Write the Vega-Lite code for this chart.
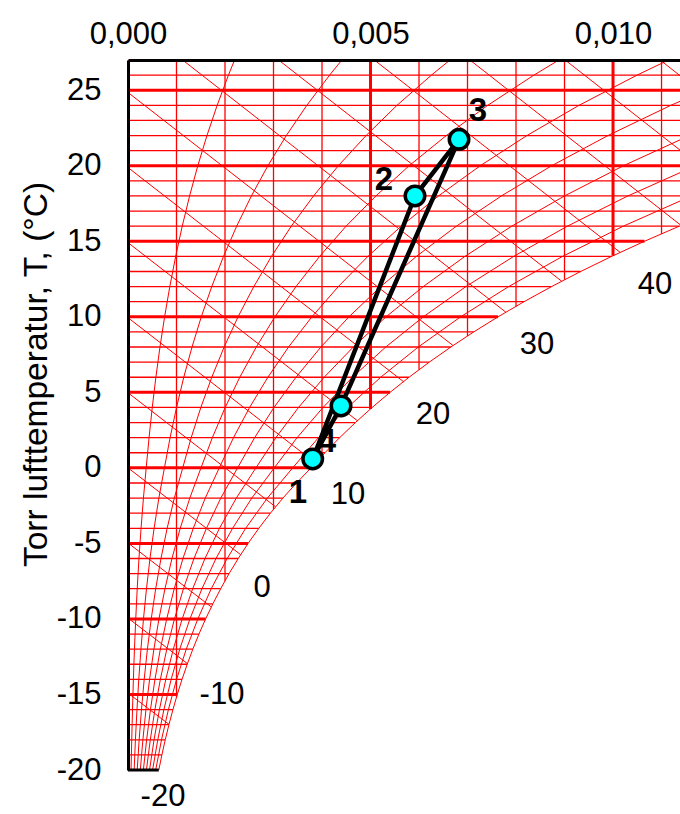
{
  "$schema": "https://vega.github.io/schema/vega-lite/v6.json",
  "width": 552,
  "height": 710,
  "autosize": {"type": "none"},
  "padding": {"left": 128, "top": 60, "right": 0, "bottom": 44},
  "background": "white",
  "config": {"view": {"stroke": null}, "font": "Liberation Sans"},
  "datasets": {
    "sat": [
      {"T": -20, "x": 0.000635}, {"T": -19, "x": 0.000699}, {"T": -18, "x": 0.000768}, {"T": -17, "x": 0.000844},
      {"T": -16, "x": 0.000927}, {"T": -15, "x": 0.001016}, {"T": -14, "x": 0.001114}, {"T": -13, "x": 0.001221},
      {"T": -12, "x": 0.001337}, {"T": -11, "x": 0.001463}, {"T": -10, "x": 0.0016}, {"T": -9, "x": 0.00175},
      {"T": -8, "x": 0.001911}, {"T": -7, "x": 0.002084}, {"T": -6, "x": 0.002273}, {"T": -5, "x": 0.002476},
      {"T": -4, "x": 0.002697}, {"T": -3, "x": 0.002936}, {"T": -2, "x": 0.003194}, {"T": -1, "x": 0.003474},
      {"T": 0, "x": 0.003775}, {"T": 1, "x": 0.00406}, {"T": 2, "x": 0.004364}, {"T": 3, "x": 0.004689},
      {"T": 4, "x": 0.005034}, {"T": 5, "x": 0.005403}, {"T": 6, "x": 0.005795}, {"T": 7, "x": 0.006212},
      {"T": 8, "x": 0.006656}, {"T": 9, "x": 0.007128}, {"T": 10, "x": 0.00763}, {"T": 11, "x": 0.008164},
      {"T": 12, "x": 0.008732}, {"T": 13, "x": 0.009333}, {"T": 14, "x": 0.009972}, {"T": 15, "x": 0.010649},
      {"T": 16, "x": 0.011367}, {"T": 17, "x": 0.012129}, {"T": 18, "x": 0.012936}, {"T": 19, "x": 0.013791},
      {"T": 20, "x": 0.014696}, {"T": 21, "x": 0.015655}, {"T": 22, "x": 0.01667}, {"T": 23, "x": 0.017744},
      {"T": 24, "x": 0.01888}, {"T": 25, "x": 0.020082}, {"T": 26, "x": 0.021352}, {"T": 27, "x": 0.022696}
    ],
    "vert": [
      {"x": 0.001, "T": -15.18}, {"x": 0.002, "T": -7.49}, {"x": 0.003, "T": -2.75}, {"x": 0.004, "T": 0.79},
      {"x": 0.005, "T": 3.9}, {"x": 0.006, "T": 6.49}, {"x": 0.007, "T": 8.73}, {"x": 0.008, "T": 10.69},
      {"x": 0.009, "T": 12.45}, {"x": 0.01, "T": 14.04}, {"x": 0.011, "T": 15.49}
    ],
    "enth": [
      {"h": -20, "x": 0, "T": -19.88}, {"h": -20, "x": 0.000049, "T": -20},
      {"h": -15, "x": 0, "T": -14.91}, {"h": -15, "x": 0.000846, "T": -16.98},
      {"h": -10, "x": 0, "T": -9.94}, {"h": -10, "x": 0.001226, "T": -12.96},
      {"h": -5, "x": 0, "T": -4.97}, {"h": -5, "x": 0.001719, "T": -9.21},
      {"h": 0, "x": 0, "T": 0}, {"h": 0, "x": 0.002324, "T": -5.75},
      {"h": 5, "x": 0, "T": 4.97}, {"h": 5, "x": 0.003043, "T": -2.58},
      {"h": 10, "x": 0, "T": 9.94}, {"h": 10, "x": 0.003867, "T": 0.32},
      {"h": 15, "x": 0, "T": 14.91}, {"h": 15, "x": 0.00473, "T": 3.12},
      {"h": 20, "x": 0, "T": 19.88}, {"h": 20, "x": 0.005679, "T": 5.71},
      {"h": 25, "x": 0, "T": 24.85}, {"h": 25, "x": 0.006701, "T": 8.1},
      {"h": 30, "x": 0, "T": 29.82}, {"h": 30, "x": 0.007792, "T": 10.3},
      {"h": 35, "x": 0, "T": 34.79}, {"h": 35, "x": 0.008944, "T": 12.35},
      {"h": 40, "x": 0, "T": 39.76}, {"h": 40, "x": 0.01015, "T": 14.26},
      {"h": 45, "x": 0, "T": 44.73}, {"h": 45, "x": 0.011403, "T": 16.05},
      {"h": 50, "x": 0, "T": 49.7}, {"h": 50, "x": 0.012702, "T": 17.71},
      {"h": 55, "x": 0, "T": 54.67}, {"h": 55, "x": 0.014035, "T": 19.27}
    ],
    "rh": [
      {"p": 10, "T": -20, "x": 0.000063}, {"p": 10, "T": -18, "x": 0.000077}, {"p": 10, "T": -16, "x": 0.000093}, {"p": 10, "T": -14, "x": 0.000111}, {"p": 10, "T": -12, "x": 0.000133}, {"p": 10, "T": -10, "x": 0.00016}, {"p": 10, "T": -8, "x": 0.00019}, {"p": 10, "T": -6, "x": 0.000226}, {"p": 10, "T": -4, "x": 0.000269}, {"p": 10, "T": -2, "x": 0.000318}, {"p": 10, "T": 0, "x": 0.000375}, {"p": 10, "T": 2, "x": 0.000434}, {"p": 10, "T": 4, "x": 0.0005}, {"p": 10, "T": 6, "x": 0.000575}, {"p": 10, "T": 8, "x": 0.000659}, {"p": 10, "T": 10, "x": 0.000755}, {"p": 10, "T": 12, "x": 0.000862}, {"p": 10, "T": 14, "x": 0.000983}, {"p": 10, "T": 16, "x": 0.001118}, {"p": 10, "T": 18, "x": 0.00127}, {"p": 10, "T": 20, "x": 0.001439}, {"p": 10, "T": 22, "x": 0.001628}, {"p": 10, "T": 24, "x": 0.001838}, {"p": 10, "T": 26, "x": 0.002071}, {"p": 10, "T": 27, "x": 0.002198},
      {"p": 20, "T": -20, "x": 0.000127}, {"p": 20, "T": -18, "x": 0.000153}, {"p": 20, "T": -16, "x": 0.000185}, {"p": 20, "T": -14, "x": 0.000222}, {"p": 20, "T": -12, "x": 0.000267}, {"p": 20, "T": -10, "x": 0.000319}, {"p": 20, "T": -8, "x": 0.000381}, {"p": 20, "T": -6, "x": 0.000453}, {"p": 20, "T": -4, "x": 0.000538}, {"p": 20, "T": -2, "x": 0.000636}, {"p": 20, "T": 0, "x": 0.000751}, {"p": 20, "T": 2, "x": 0.000868}, {"p": 20, "T": 4, "x": 0.001001}, {"p": 20, "T": 6, "x": 0.00115}, {"p": 20, "T": 8, "x": 0.00132}, {"p": 20, "T": 10, "x": 0.001511}, {"p": 20, "T": 12, "x": 0.001727}, {"p": 20, "T": 14, "x": 0.001969}, {"p": 20, "T": 16, "x": 0.002241}, {"p": 20, "T": 18, "x": 0.002544}, {"p": 20, "T": 20, "x": 0.002884}, {"p": 20, "T": 22, "x": 0.003264}, {"p": 20, "T": 24, "x": 0.003687}, {"p": 20, "T": 26, "x": 0.004157}, {"p": 20, "T": 27, "x": 0.00441},
      {"p": 30, "T": -20, "x": 0.00019}, {"p": 30, "T": -18, "x": 0.00023}, {"p": 30, "T": -16, "x": 0.000278}, {"p": 30, "T": -14, "x": 0.000334}, {"p": 30, "T": -12, "x": 0.0004}, {"p": 30, "T": -10, "x": 0.000479}, {"p": 30, "T": -8, "x": 0.000571}, {"p": 30, "T": -6, "x": 0.00068}, {"p": 30, "T": -4, "x": 0.000807}, {"p": 30, "T": -2, "x": 0.000955}, {"p": 30, "T": 0, "x": 0.001128}, {"p": 30, "T": 2, "x": 0.001303}, {"p": 30, "T": 4, "x": 0.001502}, {"p": 30, "T": 6, "x": 0.001728}, {"p": 30, "T": 8, "x": 0.001982}, {"p": 30, "T": 10, "x": 0.002269}, {"p": 30, "T": 12, "x": 0.002594}, {"p": 30, "T": 14, "x": 0.002958}, {"p": 30, "T": 16, "x": 0.003367}, {"p": 30, "T": 18, "x": 0.003825}, {"p": 30, "T": 20, "x": 0.004337}, {"p": 30, "T": 22, "x": 0.004909}, {"p": 30, "T": 24, "x": 0.005546}, {"p": 30, "T": 26, "x": 0.006256}, {"p": 30, "T": 27, "x": 0.006639},
      {"p": 40, "T": -20, "x": 0.000254}, {"p": 40, "T": -18, "x": 0.000307}, {"p": 40, "T": -16, "x": 0.00037}, {"p": 40, "T": -14, "x": 0.000445}, {"p": 40, "T": -12, "x": 0.000534}, {"p": 40, "T": -10, "x": 0.000638}, {"p": 40, "T": -8, "x": 0.000762}, {"p": 40, "T": -6, "x": 0.000906}, {"p": 40, "T": -4, "x": 0.001077}, {"p": 40, "T": -2, "x": 0.001274}, {"p": 40, "T": 0, "x": 0.001505}, {"p": 40, "T": 2, "x": 0.001739}, {"p": 40, "T": 4, "x": 0.002004}, {"p": 40, "T": 6, "x": 0.002305}, {"p": 40, "T": 8, "x": 0.002645}, {"p": 40, "T": 10, "x": 0.00303}, {"p": 40, "T": 12, "x": 0.003463}, {"p": 40, "T": 14, "x": 0.003951}, {"p": 40, "T": 16, "x": 0.004497}, {"p": 40, "T": 18, "x": 0.005111}, {"p": 40, "T": 20, "x": 0.005796}, {"p": 40, "T": 22, "x": 0.006563}, {"p": 40, "T": 24, "x": 0.007417}, {"p": 40, "T": 26, "x": 0.008369}, {"p": 40, "T": 27, "x": 0.008884},
      {"p": 50, "T": -20, "x": 0.000317}, {"p": 50, "T": -18, "x": 0.000384}, {"p": 50, "T": -16, "x": 0.000463}, {"p": 50, "T": -14, "x": 0.000556}, {"p": 50, "T": -12, "x": 0.000667}, {"p": 50, "T": -10, "x": 0.000798}, {"p": 50, "T": -8, "x": 0.000953}, {"p": 50, "T": -6, "x": 0.001133}, {"p": 50, "T": -4, "x": 0.001346}, {"p": 50, "T": -2, "x": 0.001593}, {"p": 50, "T": 0, "x": 0.001882}, {"p": 50, "T": 2, "x": 0.002175}, {"p": 50, "T": 4, "x": 0.002507}, {"p": 50, "T": 6, "x": 0.002884}, {"p": 50, "T": 8, "x": 0.00331}, {"p": 50, "T": 10, "x": 0.003792}, {"p": 50, "T": 12, "x": 0.004336}, {"p": 50, "T": 14, "x": 0.004946}, {"p": 50, "T": 16, "x": 0.005633}, {"p": 50, "T": 18, "x": 0.006401}, {"p": 50, "T": 20, "x": 0.007263}, {"p": 50, "T": 22, "x": 0.008225}, {"p": 50, "T": 24, "x": 0.009299}, {"p": 50, "T": 26, "x": 0.010497}, {"p": 50, "T": 27, "x": 0.011145},
      {"p": 60, "T": -20, "x": 0.00038}, {"p": 60, "T": -18, "x": 0.00046}, {"p": 60, "T": -16, "x": 0.000555}, {"p": 60, "T": -14, "x": 0.000667}, {"p": 60, "T": -12, "x": 0.0008}, {"p": 60, "T": -10, "x": 0.000958}, {"p": 60, "T": -8, "x": 0.001143}, {"p": 60, "T": -6, "x": 0.00136}, {"p": 60, "T": -4, "x": 0.001618}, {"p": 60, "T": -2, "x": 0.001913}, {"p": 60, "T": 0, "x": 0.002259}, {"p": 60, "T": 2, "x": 0.002611}, {"p": 60, "T": 4, "x": 0.00301}, {"p": 60, "T": 6, "x": 0.003464}, {"p": 60, "T": 8, "x": 0.003977}, {"p": 60, "T": 10, "x": 0.004556}, {"p": 60, "T": 12, "x": 0.00521}, {"p": 60, "T": 14, "x": 0.005946}, {"p": 60, "T": 16, "x": 0.006771}, {"p": 60, "T": 18, "x": 0.007697}, {"p": 60, "T": 20, "x": 0.008735}, {"p": 60, "T": 22, "x": 0.009896}, {"p": 60, "T": 24, "x": 0.011192}, {"p": 60, "T": 26, "x": 0.012637},
      {"p": 70, "T": -20, "x": 0.000444}, {"p": 70, "T": -18, "x": 0.000537}, {"p": 70, "T": -16, "x": 0.000648}, {"p": 70, "T": -14, "x": 0.000779}, {"p": 70, "T": -12, "x": 0.000934}, {"p": 70, "T": -10, "x": 0.001117}, {"p": 70, "T": -8, "x": 0.001334}, {"p": 70, "T": -6, "x": 0.001587}, {"p": 70, "T": -4, "x": 0.001886}, {"p": 70, "T": -2, "x": 0.002233}, {"p": 70, "T": 0, "x": 0.002637}, {"p": 70, "T": 2, "x": 0.003049}, {"p": 70, "T": 4, "x": 0.003516}, {"p": 70, "T": 6, "x": 0.004045}, {"p": 70, "T": 8, "x": 0.004645}, {"p": 70, "T": 10, "x": 0.005321}, {"p": 70, "T": 12, "x": 0.006087}, {"p": 70, "T": 14, "x": 0.006947}, {"p": 70, "T": 16, "x": 0.007913}, {"p": 70, "T": 18, "x": 0.008999}, {"p": 70, "T": 20, "x": 0.010215}, {"p": 70, "T": 22, "x": 0.011576},
      {"p": 80, "T": -20, "x": 0.000507}, {"p": 80, "T": -18, "x": 0.000614}, {"p": 80, "T": -16, "x": 0.00074}, {"p": 80, "T": -14, "x": 0.00089}, {"p": 80, "T": -12, "x": 0.001067}, {"p": 80, "T": -10, "x": 0.001277}, {"p": 80, "T": -8, "x": 0.001525}, {"p": 80, "T": -6, "x": 0.001814}, {"p": 80, "T": -4, "x": 0.002156}, {"p": 80, "T": -2, "x": 0.002552}, {"p": 80, "T": 0, "x": 0.003016}, {"p": 80, "T": 2, "x": 0.003486}, {"p": 80, "T": 4, "x": 0.004021}, {"p": 80, "T": 6, "x": 0.004628}, {"p": 80, "T": 8, "x": 0.005314}, {"p": 80, "T": 10, "x": 0.006089}, {"p": 80, "T": 12, "x": 0.006966}, {"p": 80, "T": 14, "x": 0.007953}, {"p": 80, "T": 16, "x": 0.00906}, {"p": 80, "T": 18, "x": 0.010306}, {"p": 80, "T": 20, "x": 0.011702},
      {"p": 90, "T": -20, "x": 0.000571}, {"p": 90, "T": -18, "x": 0.000691}, {"p": 90, "T": -16, "x": 0.000833}, {"p": 90, "T": -14, "x": 0.001001}, {"p": 90, "T": -12, "x": 0.001201}, {"p": 90, "T": -10, "x": 0.00144}, {"p": 90, "T": -8, "x": 0.001716}, {"p": 90, "T": -6, "x": 0.002045}, {"p": 90, "T": -4, "x": 0.002426}, {"p": 90, "T": -2, "x": 0.002873}, {"p": 90, "T": 0, "x": 0.003396}, {"p": 90, "T": 2, "x": 0.003926}, {"p": 90, "T": 4, "x": 0.004527}, {"p": 90, "T": 6, "x": 0.005211}, {"p": 90, "T": 8, "x": 0.005984}, {"p": 90, "T": 10, "x": 0.006859}, {"p": 90, "T": 12, "x": 0.007848}, {"p": 90, "T": 14, "x": 0.00896}, {"p": 90, "T": 16, "x": 0.010212}, {"p": 90, "T": 18, "x": 0.011618}
    ],
    "proc": [
      {"o": 1, "n": "1", "x": 0.003808, "T": 0.59},
      {"o": 2, "n": "2", "x": 0.005917, "T": 18.0},
      {"o": 3, "n": "3", "x": 0.006825, "T": 21.75},
      {"o": 4, "n": "4", "x": 0.004392, "T": 4.1},
      {"o": 5, "n": "1", "x": 0.003808, "T": 0.59}
    ],
    "plabels": [
      {"n": "1", "x": 0.003505, "T": -1.66},
      {"n": "2", "x": 0.005278, "T": 19.06},
      {"n": "3", "x": 0.007216, "T": 23.63},
      {"n": "4", "x": 0.004103, "T": 1.71}
    ],
    "hlabels": [
      {"h": "-20", "x": 0.000722, "T": -21.8},
      {"h": "-10", "x": 0.001938, "T": -15.03},
      {"h": "0", "x": 0.002763, "T": -7.95},
      {"h": "10", "x": 0.004536, "T": -1.79},
      {"h": "20", "x": 0.006289, "T": 3.51},
      {"h": "30", "x": 0.008433, "T": 8.14},
      {"h": "40", "x": 0.010866, "T": 12.11}
    ]
  },
  "encoding": {
    "x": {
      "field": "x", "type": "quantitative",
      "scale": {"domain": [0, 0.011381], "nice": false, "zero": false},
      "axis": {
        "orient": "top", "values": [0, 0.005, 0.01],
        "labelExpr": "replace(format(datum.value, '.3f'), '.', ',')",
        "ticks": false, "grid": false, "domainColor": "black", "domainWidth": 3,
        "labelFont": "Liberation Sans", "labelFontSize": 31, "labelColor": "black",
        "labelPadding": 10, "labelFlush": false, "labelOverlap": false, "title": null, "zindex": 2
      }
    },
    "y": {
      "field": "T", "type": "quantitative",
      "scale": {"domain": [-20, 27], "nice": false, "zero": false},
      "axis": {
        "values": [-20, -15, -10, -5, 0, 5, 10, 15, 20, 25],
        "labelExpr": "datum.value + ''",
        "ticks": false, "grid": false, "domainColor": "black", "domainWidth": 3,
        "labelFont": "Liberation Sans", "labelFontSize": 31, "labelColor": "black",
        "labelPadding": 27, "labelFlush": false, "labelOverlap": false,
        "title": "Torr lufttemperatur, T, (°C)", "titleFont": "Liberation Sans",
        "titleFontSize": 33.5, "titleFontWeight": "normal", "titleColor": "black",
        "titlePadding": 3, "titleY": 314, "zindex": 2
      }
    }
  },
  "layer": [
    {
      "data": {"name": "rh"},
      "mark": {"type": "line", "color": "#ff0000", "strokeWidth": 1, "clip": true},
      "encoding": {"detail": {"field": "p"}, "order": {"field": "T"}}
    },
    {
      "data": {"name": "enth"},
      "mark": {"type": "line", "color": "#ff0000", "strokeWidth": 1, "clip": true},
      "encoding": {"detail": {"field": "h"}, "order": {"field": "x"}}
    },
    {
      "data": {"name": "sat"},
      "mark": {"type": "line", "color": "#ff0000", "strokeWidth": 1, "clip": true},
      "encoding": {"order": {"field": "T"}}
    },
    {
      "data": {"name": "sat"},
      "transform": [{"filter": "datum.T % 5 != 0"}],
      "mark": {"type": "rule", "color": "#ff0000", "strokeWidth": 1.3, "clip": true},
      "encoding": {"x": {"datum": 0, "type": "quantitative"}, "x2": {"field": "x"}}
    },
    {
      "data": {"name": "vert"},
      "transform": [{"filter": "round(datum.x * 1000) % 5 != 0"}],
      "mark": {"type": "rule", "color": "#ff0000", "strokeWidth": 1.3, "clip": true},
      "encoding": {"y2": {"datum": 27}}
    },
    {
      "data": {"name": "sat"},
      "transform": [{"filter": "datum.T % 5 == 0 && datum.T > -20"}],
      "mark": {"type": "rule", "color": "#ff0000", "strokeWidth": 3, "clip": true},
      "encoding": {"x": {"datum": 0, "type": "quantitative"}, "x2": {"field": "x"}}
    },
    {
      "data": {"name": "vert"},
      "transform": [{"filter": "round(datum.x * 1000) % 5 == 0"}],
      "mark": {"type": "rule", "color": "#ff0000", "strokeWidth": 3, "clip": true},
      "encoding": {"y2": {"datum": 27}}
    },
    {
      "data": {"name": "sat"},
      "transform": [{"filter": "datum.T == -20"}],
      "mark": {"type": "rule", "color": "black", "strokeWidth": 3, "clip": false},
      "encoding": {"x": {"datum": 0, "type": "quantitative"}, "x2": {"field": "x"}}
    },
    {
      "data": {"name": "hlabels"},
      "mark": {"type": "text", "font": "Liberation Sans", "fontSize": 31, "color": "black", "align": "center", "baseline": "middle"},
      "encoding": {"text": {"field": "h"}}
    },
    {
      "data": {"name": "proc"},
      "mark": {"type": "line", "color": "black", "strokeWidth": 4.5, "strokeJoin": "round"},
      "encoding": {"order": {"field": "o"}}
    },
    {
      "data": {"name": "proc"},
      "transform": [{"filter": "datum.o < 5"}],
      "mark": {"type": "point", "shape": "circle", "filled": true, "fill": "#00ffff", "stroke": "black", "strokeWidth": 3.5, "size": 380, "opacity": 1}
    },
    {
      "data": {"name": "plabels"},
      "mark": {"type": "text", "font": "Liberation Sans", "fontSize": 33, "fontWeight": "bold", "color": "black", "align": "center", "baseline": "middle"},
      "encoding": {"text": {"field": "n"}}
    }
  ]
}
